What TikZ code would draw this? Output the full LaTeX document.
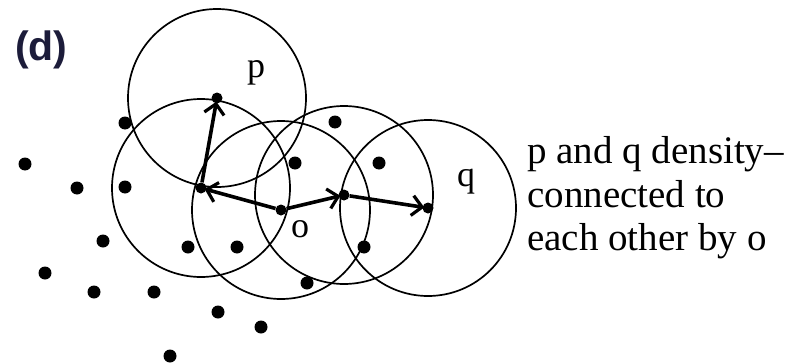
\documentclass[tikz,border=0pt]{standalone}
\usepackage{fontspec}
\setmainfont{Liberation Serif}
\newfontfamily\labsans{Liberation Sans}
\usetikzlibrary{arrows.meta}
\definecolor{navy}{HTML}{1C1C3A}
\tikzset{
  ring/.style={draw=black, line width=1.7pt},
  dot/.style={circle, fill=black, inner sep=0pt, minimum size=13pt},
  core/.style={circle, fill=black, inner sep=0pt, minimum size=11pt},
  link/.style={line width=3.6pt, -{Straight Barb[length=10pt,width=20pt,line width=3.2pt]}, shorten >=-2pt},
  lab/.style={font=\fontsize{36}{40}\selectfont, inner sep=0pt, anchor=base west},
  txt/.style={font=\fontsize{39}{44}\selectfont, inner sep=0pt, anchor=base west}
}
\begin{document}
\begin{tikzpicture}[x=1pt,y=-1pt]
\useasboundingbox (0,0) rectangle (798,364);
% core points
\node[core] (p) at (217,98) {};
\node[core] (a) at (201,188) {};
\node[core] (o) at (281,210) {};
\node[core] (b) at (344,195) {};
\node[core] (q) at (428,208) {};
% neighbourhood circles
\draw[ring] (p) circle[radius=89];
\draw[ring] (a) circle[radius=89];
\draw[ring] (o) circle[radius=89];
\draw[ring] (b) circle[radius=89];
\draw[ring] (q) circle[radius=88];
% other points
\foreach \i/\x/\y in {1/125/123,2/25/164,3/77/188,4/125/187,5/103/241,6/45/273,7/94/292,8/154/292,9/188/247,10/237/247,11/218/312,12/261/327,13/170/356,14/307/283,15/335/122,16/295/163,17/379/163,18/364/247}
  \node[dot] (d\i) at (\x,\y) {};
% reachability arrows
\draw[link] (o) -- (a);
\draw[link] (a) -- (p);
\draw[link] (o) -- (b);
\draw[link] (b) -- (q);
% labels
\node[lab] (lp) at (247,77) {p};
\node[lab] (lq) at (457,186) {q};
\node[lab] (lo) at (291,237) {o};
\node[font=\labsans\bfseries\fontsize{41}{44}\selectfont, text=navy, inner sep=0pt, anchor=base west] (lbl) at (15,60) {(d)};
\node[txt] (t1) at (527,163) {p and q density–};
\node[txt] (t2) at (527,207) {connected to};
\node[txt] (t3) at (527,250) {each other by o};
\end{tikzpicture}
\end{document}
